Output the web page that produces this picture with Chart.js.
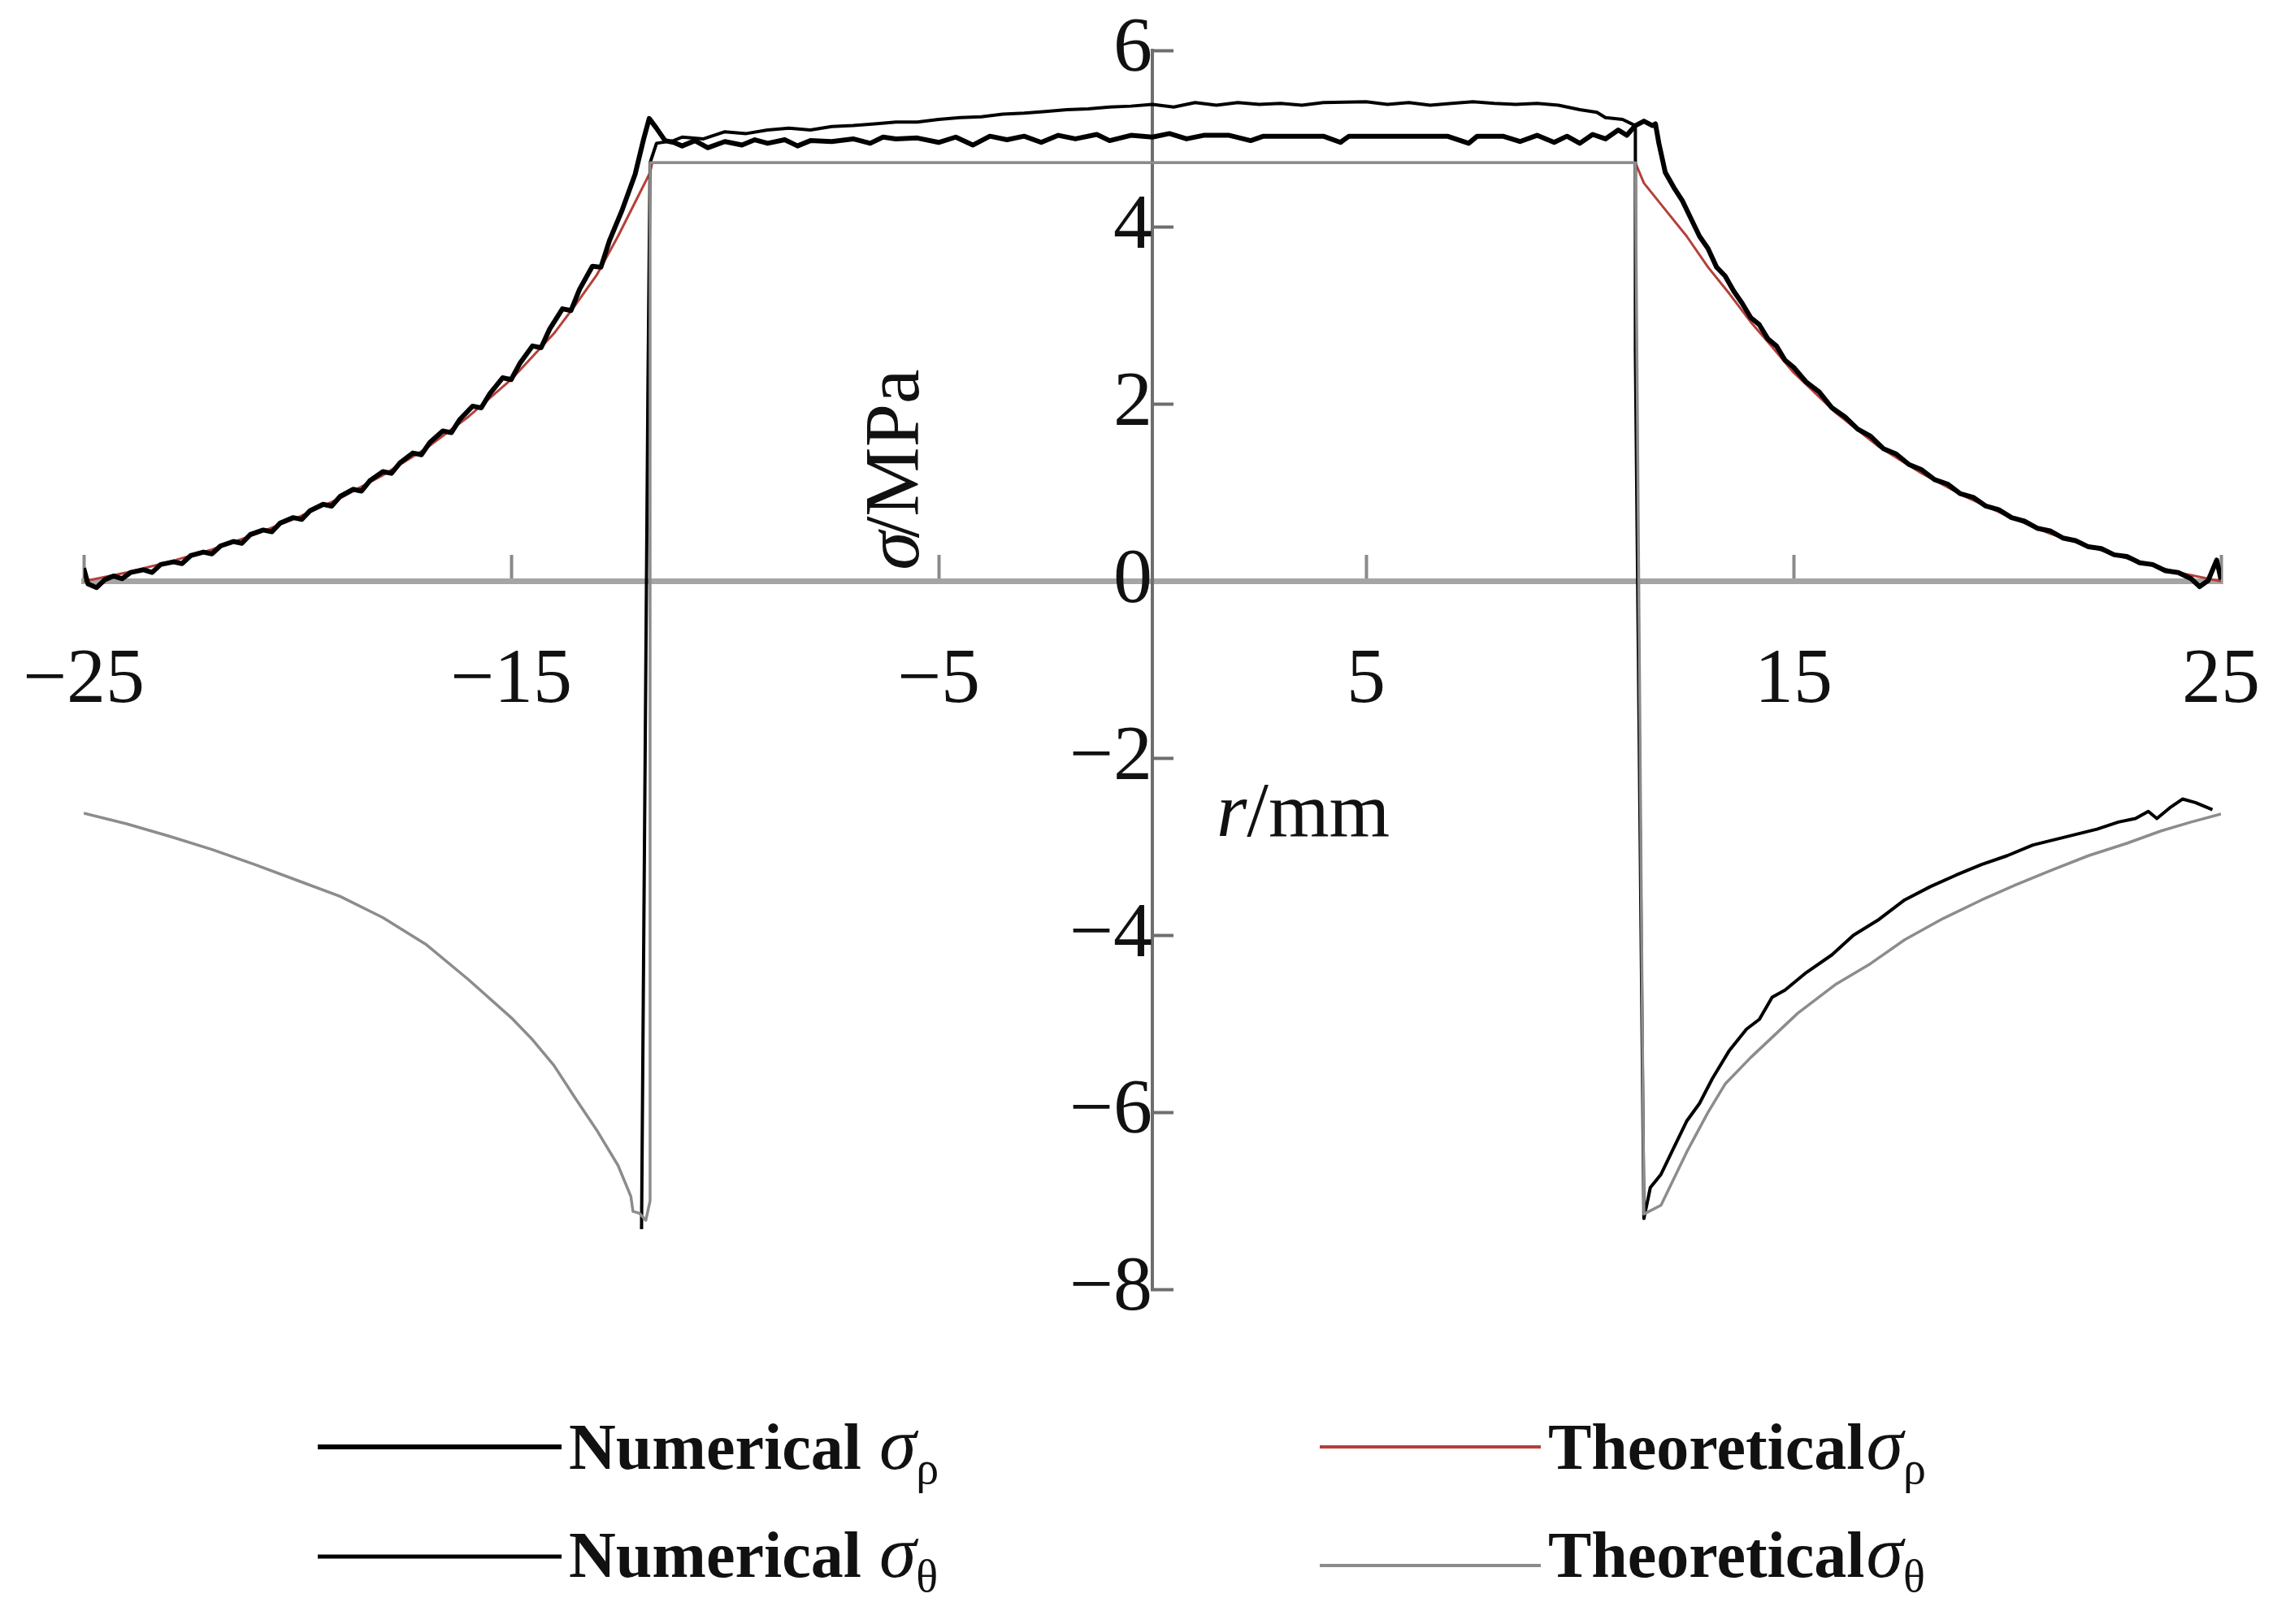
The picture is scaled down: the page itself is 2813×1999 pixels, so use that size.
<!DOCTYPE html>
<html>
<head>
<meta charset="utf-8">
<script src="https://cdn.jsdelivr.net/npm/chart.js@4.4.1/dist/chart.umd.min.js"></script>
<style>
  html, body { margin: 0; padding: 0; background: #fff; }
  #wrap { width: 2813px; height: 1999px; }
</style>
</head>
<body>
<div id="wrap"><canvas id="stressChart" width="2813" height="1999"></canvas></div>
<script>
// axis ticks
const xTicks = [-25, -15, -5, 5, 15, 25];
const yTicks = [-8, -6, -4, -2, 0, 2, 4, 6];

// Numerical sigma rho (r in mm, stress in MPa)
const numRhoX = [-25, -24.9, -24.7, -24.5, -24.3, -24.1, -23.9, -23.6, -23.4, -23.2, -22.9, -22.7, -22.5, -22.2, -22,
  -21.8, -21.5, -21.3, -21.1, -20.8, -20.6, -20.4, -20.1, -19.9, -19.7, -19.4, -19.2, -19, -18.7, -18.5, -18.3, -18,
  -17.8, -17.6, -17.3, -17.1, -16.9, -16.6, -16.4, -16.2, -15.9, -15.7, -15.5, -15.2, -15, -14.8, -14.5, -14.3, -14.1,
  -13.8, -13.6, -13.4, -13.1, -12.9, -12.7, -12.4, -12.1, -11.9, -11.77, -11.6, -11.4, -11.2,
  -11, -10.7, -10.4, -10, -9.6, -9.3, -9, -8.6, -8.3, -8, -7.5, -7, -6.6, -6.3, -6, -5.5, -5, -4.6, -4.2, -3.8, -3.4,
  -3, -2.6, -2.2, -1.8, -1.3, -1, -0.5, 0, 0.4, 0.8, 1.2, 1.8, 2.3, 2.6, 3.2, 4, 4.4, 4.6, 5.5, 6.2, 6.9, 7.4, 7.6,
  8.2, 8.6, 9, 9.4, 9.7, 10, 10.3, 10.6, 10.9, 11.1, 11.3, 11.5, 11.7, 11.77,
  11.85, 12, 12.2, 12.4, 12.6, 12.8, 13, 13.2, 13.4, 13.6, 13.8, 14, 14.2, 14.4, 14.6, 14.8, 15, 15.3, 15.6, 15.9,
  16.2, 16.5, 16.8, 17.1, 17.4, 17.7, 18, 18.3, 18.6, 18.9, 19.2, 19.5, 19.8, 20.1, 20.4, 20.7, 21, 21.3, 21.6, 21.9,
  22.2, 22.5, 22.8, 23.1, 23.4, 23.7, 24, 24.3, 24.5, 24.7, 24.9, 25];
const numRhoY = [0.15, -0.03, -0.07, 0.02, 0.06, 0.03, 0.1, 0.13, 0.1, 0.19, 0.22, 0.2, 0.29, 0.33, 0.31,
  0.4, 0.45, 0.43, 0.53, 0.58, 0.56, 0.66, 0.72, 0.7, 0.8, 0.87, 0.85, 0.96, 1.04, 1.02, 1.14, 1.24,
  1.22, 1.34, 1.45, 1.43, 1.57, 1.7, 1.68, 1.83, 1.98, 1.96, 2.12, 2.3, 2.28, 2.46, 2.66, 2.64, 2.85,
  3.08, 3.06, 3.3, 3.56, 3.55, 3.85, 4.2, 4.6, 5.0, 5.23, 5.12, 4.98, 4.96,
  4.92, 4.98, 4.9, 4.97, 4.93, 4.99, 4.95, 4.99, 4.92, 4.98, 4.97, 5.0, 4.95, 5.02, 5.0, 5.01, 4.96, 5.02, 4.93, 5.03, 4.99,
  5.03, 4.96, 5.04, 5.0, 5.05, 4.98, 5.04, 5.02, 5.06, 5.0, 5.04, 5.04, 4.98, 5.03, 5.03, 5.03, 4.96, 5.03, 5.03, 5.03, 5.03, 4.95, 5.03,
  5.03, 4.97, 5.04, 4.96, 5.03, 4.95, 5.05, 5.0, 5.1, 5.04, 5.15, 5.2, 5.15, 5.17,
  4.95, 4.62, 4.45, 4.3, 4.1, 3.9, 3.76, 3.55, 3.45, 3.28, 3.14, 2.98, 2.9, 2.74, 2.66, 2.5, 2.42, 2.25, 2.14, 1.96,
  1.86, 1.72, 1.64, 1.5, 1.44, 1.32, 1.26, 1.15, 1.1, 0.99, 0.95, 0.85, 0.81, 0.72, 0.68, 0.6, 0.57, 0.49, 0.46, 0.39,
  0.37, 0.3, 0.28, 0.21, 0.19, 0.12, 0.1, 0.03, -0.06, 0.01, 0.24, 0.02];

// Numerical sigma theta
const numThetaX = [-11.95, -11.8, -11.75, -11.6, -11.2, -11, -10.5, -10, -9.5, -9, -8.5, -8, -7.5, -7, -6.5, -6, -5.5, -5,
  -4.5, -4, -3.5, -3, -2.5, -2, -1.5, -1, -0.5, 0, 0.5, 1, 1.5, 2, 2.5, 3, 3.5, 4, 5, 5.5, 6, 6.5, 7, 7.5, 8, 8.5,
  9, 9.5, 10, 10.4, 10.6, 11, 11.3, 11.3, 11.5, 11.65, 11.9, 12.2, 12.5, 12.8, 13.1, 13.5, 13.9, 14.2, 14.5, 14.8,
  15.3, 15.9, 16.4, 17, 17.6, 18.2, 18.8, 19.4, 20, 20.6, 21.1, 21.6, 22.1, 22.6, 23, 23.3, 23.5, 23.8, 24.1, 24.4, 24.8];
const numThetaY = [-7.32, 2.2, 4.73, 4.95, 4.98, 5.02, 5.0, 5.08, 5.06, 5.1, 5.12, 5.1, 5.14, 5.15, 5.17, 5.19, 5.19, 5.22,
  5.24, 5.25, 5.28, 5.29, 5.31, 5.33, 5.34, 5.36, 5.37, 5.39, 5.36, 5.41, 5.38, 5.41, 5.39, 5.4, 5.38, 5.41, 5.42, 5.39,
  5.41, 5.38, 5.4, 5.42, 5.4, 5.39, 5.4, 5.38, 5.33, 5.3, 5.24, 5.22, 5.15, 2.6, -7.2, -6.85, -6.7, -6.4, -6.1, -5.9,
  -5.62, -5.3, -5.06, -4.95, -4.7, -4.62, -4.42, -4.22, -4.0, -3.82, -3.6, -3.45, -3.32, -3.2, -3.1, -2.98, -2.92,
  -2.86, -2.8, -2.72, -2.68, -2.6, -2.68, -2.56, -2.46, -2.5, -2.58];

// Theoretical sigma rho
const theoRhoX = [-25, -24, -23, -22, -21, -20, -19, -18, -17, -16, -15, -14, -13.5, -13, -12.5, -12, -11.75, -11.7,
  11.3, 11.5, 12, 12.5, 13, 13.5, 14, 14.5, 15, 16, 17, 18, 19, 20, 21, 22, 23, 24, 25];
const theoRhoY = [0.0, 0.1, 0.22, 0.36, 0.53, 0.72, 0.94, 1.2, 1.5, 1.86, 2.28, 2.8, 3.12, 3.46, 3.9, 4.38, 4.62, 4.73,
  4.73, 4.5, 4.2, 3.9, 3.55, 3.25, 2.93, 2.65, 2.36, 1.9, 1.52, 1.22, 0.96, 0.74, 0.54, 0.38, 0.23, 0.1, 0.0];

// Theoretical sigma theta
const theoThetaX = [-25, -24, -23, -22, -21, -20, -19, -18, -17, -16, -15, -14.5, -14, -13.5, -13, -12.5, -12.2, -12.15,
  -12.0, -11.85, -11.75, -11.75, 11.3, 11.5, 11.9, 12.5, 13, 13.4, 14, 15.1, 16, 16.8, 17.6, 18.5, 19.4, 20.2, 21,
  21.9, 22.8, 23.6, 24.3, 25];
const theoThetaY = [-2.62, -2.74, -2.88, -3.03, -3.2, -3.38, -3.56, -3.8, -4.1, -4.5, -4.93, -5.18, -5.47, -5.84, -6.2,
  -6.6, -6.95, -7.12, -7.14, -7.22, -7.0, 4.73, 4.73, -7.15, -7.05, -6.45, -6.0, -5.68, -5.38, -4.88, -4.55, -4.32,
  -4.05, -3.81, -3.6, -3.43, -3.27, -3.1, -2.96, -2.82, -2.72, -2.63];

const serif = '"Liberation Serif", "Times New Roman", serif';
const toPoints = (xs, ys) => xs.map((x, i) => ({ x: x, y: ys[i] }));
const fmt = v => (v < 0 ? '\u2212' + Math.abs(v) : String(v));

const legendRows = [
  { ds: 0, name: 'Numerical ', sub: 'ρ', col: 0, row: 0 },
  { ds: 2, name: 'Numerical ', sub: 'θ', col: 0, row: 1 },
  { ds: 3, name: 'Theoretical', sub: 'ρ', col: 1, row: 0 },
  { ds: 1, name: 'Theoretical', sub: 'θ', col: 1, row: 1 }
];

const annotations = {
  id: 'annotations',
  afterDraw(chart) {
    const ctx = chart.ctx;
    const xs = chart.scales.x, ys = chart.scales.y;

    // vertical axis title
    ctx.save();
    ctx.fillStyle = '#111';
    ctx.translate(xs.getPixelForValue(-5.95), ys.getPixelForValue(1.3));
    ctx.rotate(-Math.PI / 2);
    ctx.textBaseline = 'middle';
    ctx.textAlign = 'left';
    ctx.font = 'italic 96px ' + serif;
    const ws = ctx.measureText('σ').width;
    ctx.font = '96px ' + serif;
    const wr = ctx.measureText('/MPa').width;
    const start = -(ws + wr) / 2;
    ctx.font = 'italic 96px ' + serif;
    ctx.fillText('σ', start, 0);
    ctx.font = '96px ' + serif;
    ctx.fillText('/MPa', start + ws - 8, 0);
    ctx.restore();

    // horizontal axis title
    ctx.save();
    ctx.fillStyle = '#111';
    ctx.textBaseline = 'alphabetic';
    ctx.textAlign = 'left';
    const tx = xs.getPixelForValue(1.5), ty = ys.getPixelForValue(-2.88);
    ctx.font = 'italic 96px ' + serif;
    ctx.fillText('r', tx, ty);
    const wrr = ctx.measureText('r').width;
    ctx.font = '96px ' + serif;
    ctx.fillText('/mm', tx + wrr, ty);
    ctx.restore();

    // legend, two columns by two rows
    const lineX0 = [391, 1624], lineX1 = [691, 1896], textX = [700, 1905];
    const lineY = [[1781, 1916], [1781, 1927]], baseY = [1808, 1941];
    ctx.save();
    legendRows.forEach(item => {
      const ds = chart.data.datasets[item.ds];
      const ly = lineY[item.col][item.row];
      ctx.strokeStyle = ds.borderColor;
      ctx.lineWidth = item.ds === 0 ? 6 : (item.ds === 2 ? 5 : 4);
      ctx.beginPath();
      ctx.moveTo(lineX0[item.col], ly);
      ctx.lineTo(lineX1[item.col], ly);
      ctx.stroke();

      let x = textX[item.col];
      const by = baseY[item.row];
      ctx.fillStyle = '#111';
      ctx.textAlign = 'left';
      ctx.textBaseline = 'alphabetic';
      ctx.font = 'bold 80px ' + serif;
      ctx.fillText(item.name, x, by);
      x += ctx.measureText(item.name).width + 2;
      ctx.font = 'italic 92px ' + serif;
      ctx.fillText('σ', x, by);
      x += ctx.measureText('σ').width;
      ctx.font = '56px ' + serif;
      ctx.fillText(item.sub, x, by + 18);
    });
    ctx.restore();
  }
};

new Chart(document.getElementById('stressChart'), {
  type: 'scatter',
  data: {
    datasets: [
      { label: 'Numerical σρ', data: toPoints(numRhoX, numRhoY), borderColor: '#000000', borderWidth: 6, order: 1 },
      { label: 'Theoretical σθ', data: toPoints(theoThetaX, theoThetaY), borderColor: '#8c8c8c', borderWidth: 3.5, order: 2 },
      { label: 'Numerical σθ', data: toPoints(numThetaX, numThetaY), borderColor: '#000000', borderWidth: 4, order: 3 },
      { label: 'Theoretical σρ', data: toPoints(theoRhoX, theoRhoY), borderColor: '#b5403a', borderWidth: 3, order: 4 }
    ].map(d => Object.assign(d, { showLine: true, pointRadius: 0, tension: 0, borderJoinStyle: 'round', fill: false }))
  },
  options: {
    responsive: false,
    animation: false,
    layout: { padding: { left: 103, right: 80, top: 62, bottom: 412 } },
    plugins: { legend: { display: false }, tooltip: { enabled: false } },
    scales: {
      x: {
        type: 'linear', min: -25, max: 25, position: { y: 0 },
        afterBuildTicks: s => { s.ticks = xTicks.map(v => ({ value: v })); },
        grid: { drawOnChartArea: false, drawTicks: true, tickLength: -36, tickWidth: 4, tickColor: '#8a8a8a' },
        border: { display: true, color: '#a5a5a5', width: 7 },
        // tall line box pushes the labels below the axis without a large padding
        ticks: { font: { family: serif, size: 96, lineHeight: 2.8 }, color: '#111', padding: 25, maxRotation: 0, autoSkip: false, callback: fmt }
      },
      y: {
        type: 'linear', min: -8, max: 6, position: { x: 0 },
        afterBuildTicks: s => { s.ticks = yTicks.map(v => ({ value: v })); },
        grid: { drawOnChartArea: false, drawTicks: true, tickLength: -28, tickWidth: 4, tickColor: '#6e6e6e' },
        border: { display: true, color: '#6e6e6e', width: 4 },
        ticks: { font: { family: serif, size: 96, lineHeight: 0.25 }, color: '#111', padding: 38, autoSkip: false, callback: fmt }
      }
    }
  },
  plugins: [annotations]
});
</script>
</body>
</html>
